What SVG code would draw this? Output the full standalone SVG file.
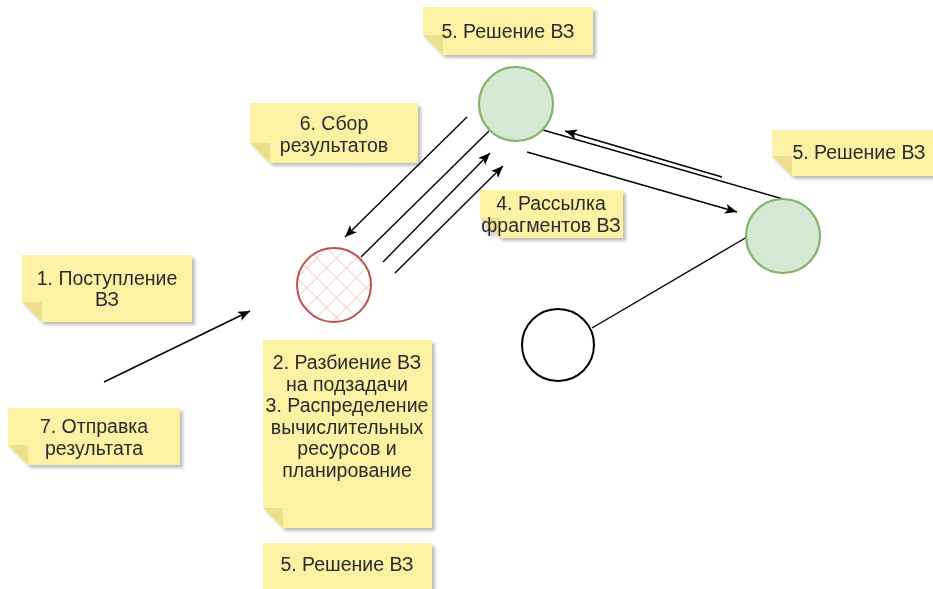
<svg xmlns="http://www.w3.org/2000/svg" width="933" height="589" viewBox="0 0 933 589">
<style>
.note{fill:#FCF2A4;}
.fold{fill:#EDE08C;}
.t{font-family:"Liberation Sans",Arial,sans-serif;font-size:19.5px;fill:#2b2b2b;text-anchor:middle;}
.c{stroke:#000;stroke-width:1.4;fill:none;}
.green{fill:#D5E8D4;stroke:#82B366;stroke-width:2.2;}
</style>
<defs>
<filter id="sh" x="-10%" y="-10%" width="130%" height="140%">
<feDropShadow dx="3" dy="3" stdDeviation="1.5" flood-color="#000" flood-opacity="0.25"/>
</filter>
<pattern id="hatch" patternUnits="userSpaceOnUse" width="14" height="14" patternTransform="rotate(45)">
<line x1="0" y1="0" x2="0" y2="14" stroke="#F3C4C2" stroke-width="1.6"/>
<line x1="0" y1="0" x2="14" y2="0" stroke="#F3C4C2" stroke-width="1.6"/>
</pattern>
<marker id="arr" markerUnits="userSpaceOnUse" markerWidth="14" markerHeight="12" refX="12" refY="5" orient="auto">
<path d="M0,0 L12,5 L0,10 L3,5 Z" fill="#000"/>
</marker>
</defs>
<rect width="933" height="589" fill="#fff"/>

<g id="edges">
<line class="c" x1="104" y1="382" x2="250" y2="311" marker-end="url(#arr)"/>
<line class="c" x1="467" y1="117" x2="345" y2="237" marker-end="url(#arr)"/>
<line class="c" x1="361" y1="257" x2="489" y2="131"/>
<line class="c" x1="383" y1="262" x2="490" y2="153" marker-end="url(#arr)"/>
<line class="c" x1="395" y1="273" x2="503" y2="166" marker-end="url(#arr)"/>
<line class="c" x1="543" y1="130" x2="783" y2="199"/>
<line class="c" x1="722" y1="177" x2="565" y2="131" marker-end="url(#arr)"/>
<line class="c" x1="527" y1="152" x2="737" y2="212" marker-end="url(#arr)"/>
<line class="c" x1="592" y1="328" x2="747" y2="237"/>
</g>

<g id="circle-top"><circle class="green" cx="516" cy="104" r="37"/></g>
<g id="circle-right"><circle class="green" cx="783" cy="236" r="37"/></g>
<g id="circle-black"><circle cx="558" cy="345" r="36" fill="#fff" stroke="#000" stroke-width="2"/></g>
<g id="circle-red">
<circle cx="334" cy="285" r="37" fill="#fff"/>
<circle cx="334" cy="285" r="37" fill="url(#hatch)" stroke="#B85450" stroke-width="2"/>
</g>

<g id="note-top" filter="url(#sh)">
<path class="note" d="M423,7 H593 V55 H443 L423,35 Z"/>
<path class="fold" d="M423,35 L443,35 L443,55 Z"/>
<text class="t" x="508" y="38">5. Решение ВЗ</text>
</g>

<g id="note-6" filter="url(#sh)">
<path class="note" d="M250,103 H418 V163 H270 L250,143 Z"/>
<path class="fold" d="M250,143 L270,143 L270,163 Z"/>
<text class="t" x="334" y="130">6. Сбор</text>
<text class="t" x="334" y="152">результатов</text>
</g>

<g id="note-4" filter="url(#sh)">
<path class="note" d="M480,190 H623 V238 H500 L480,218 Z"/>
<path class="fold" d="M480,218 L500,218 L500,238 Z"/>
<text class="t" x="551" y="210">4. Рассылка</text>
<text class="t" x="551" y="232">фрагментов ВЗ</text>
</g>

<g id="note-right" filter="url(#sh)">
<path class="note" d="M772,130 H944 V176 H792 L772,156 Z"/>
<path class="fold" d="M772,156 L792,156 L792,176 Z"/>
<text class="t" x="859" y="159">5. Решение ВЗ</text>
</g>

<g id="note-1" filter="url(#sh)">
<path class="note" d="M22,255 H192 V322 H42 L22,302 Z"/>
<path class="fold" d="M22,302 L42,302 L42,322 Z"/>
<text class="t" x="107" y="285">1. Поступление</text>
<text class="t" x="107" y="306">ВЗ</text>
</g>

<g id="note-7" filter="url(#sh)">
<path class="note" d="M8,408 H180 V465 H28 L8,445 Z"/>
<path class="fold" d="M8,445 L28,445 L28,465 Z"/>
<text class="t" x="94" y="433">7. Отправка</text>
<text class="t" x="94" y="455">результата</text>
</g>

<g id="note-23" filter="url(#sh)">
<path class="note" d="M263,340 H432 V528 H283 L263,508 Z"/>
<path class="fold" d="M263,508 L283,508 L283,528 Z"/>
<text class="t" x="347" y="369">2. Разбиение ВЗ</text>
<text class="t" x="347" y="391">на подзадачи</text>
<text class="t" x="347" y="412">3. Распределение</text>
<text class="t" x="347" y="434">вычислительных</text>
<text class="t" x="347" y="455">ресурсов и</text>
<text class="t" x="347" y="477">планирование</text>
</g>

<g id="note-bottom" filter="url(#sh)">
<path class="note" d="M263,543 H432 V600 H263 Z"/>
<text class="t" x="347" y="571">5. Решение ВЗ</text>
</g>
</svg>
